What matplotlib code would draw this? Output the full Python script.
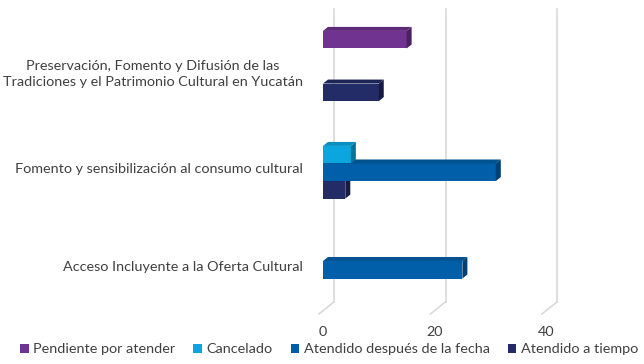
import matplotlib
matplotlib.use("Agg")
import matplotlib.pyplot as plt
from matplotlib.patches import Polygon, Patch
from matplotlib.transforms import ScaledTranslation

categories = [
    "Acceso Incluyente a la Oferta Cultural",
    "Fomento y sensibilización al consumo cultural",
    "Preservación, Fomento y Difusión de las\nTradiciones y el Patrimonio Cultural en Yucatán",
]
series_names = ["Pendiente por atender", "Cancelado", "Atendido después de la fecha", "Atendido a tiempo"]
pendiente = [0, 0, 15]
cancelado = [0, 5, 0]
despues = [25, 31, 0]
a_tiempo = [0, 4, 10]
xticks = [0, 20, 40]

series_values = [pendiente, cancelado, despues, a_tiempo]
front = ["#70338F", "#0BA6DE", "#005FA8", "#242C68"]
top = ["#5E2A7A", "#0A8FC0", "#00518F", "#1D2456"]
side = ["#4B2062", "#08739B", "#004175", "#161B45"]
text_color = "#404040"

plt.rcParams["font.family"] = ["Lato", "DejaVu Sans"]

fig = plt.figure(figsize=(6.44, 3.64), dpi=100)
ax = fig.add_axes([323 / 644, 50 / 364, 321 / 644, 306 / 364])
ax.set_xlim(0, 321 / 5.575)
ax.set_ylim(-0.544, 2.595)

# pixel scale of the axes, used for the fake 3D depth
px_x = 5.575
px_y = 97.5
dx, dy = 5 / px_x, 4 / px_y

slot = 0.18
offsets = [1.5, 0.5, -0.5, -1.5]

# back-wall gridlines and floor ticks
for t in xticks:
    ax.plot([t + 11 / px_x, t + 11 / px_x], [-0.42, 2.585], color="#D9D9D9", lw=1.2, zorder=0, clip_on=False)
    ax.plot([t + 11 / px_x, t - 4 / px_x], [-0.42, -0.42 - 12 / px_y], color="#D9D9D9", lw=1.2, zorder=0,
            clip_on=False)

for i, vals in enumerate(series_values):
    z = 10 - i
    for c, v in enumerate(vals):
        if v == 0:
            continue
        yc = c + offsets[i] * slot
        y0, y1 = yc - slot / 2, yc + slot / 2
        ax.barh(yc, v, height=slot, color=front[i], zorder=z, linewidth=0)
        ax.add_patch(Polygon([(0, y1), (v, y1), (v + dx, y1 + dy), (dx, y1 + dy)],
                             closed=True, facecolor=top[i], lw=0, zorder=z))
        ax.add_patch(Polygon([(v, y0), (v, y1), (v + dx, y1 + dy), (v + dx, y0 + dy)],
                             closed=True, facecolor=side[i], lw=0, zorder=z))

ax.set_xticks(xticks)
ax.set_xticklabels([str(t) for t in xticks], fontsize=10.4, color=text_color)
ax.set_yticks(range(len(categories)))
ax.set_yticklabels(categories, fontsize=10.4, color=text_color, multialignment="center", linespacing=1.35)
ax.tick_params(axis="x", length=0, pad=9)
ax.tick_params(axis="y", length=0, pad=14.4)
for lab in ax.get_yticklabels():
    lab.set_transform(lab.get_transform() + ScaledTranslation(0, -0.05, fig.dpi_scale_trans))
for s in ax.spines.values():
    s.set_visible(False)

handles = [Patch(facecolor=front[i], edgecolor="none") for i in range(4)]
fig.legend(handles, series_names, loc="lower center", bbox_to_anchor=(329 / 644, -0.012), ncol=4,
           frameon=False, fontsize=10.4, handlelength=0.6, handleheight=0.6, handletextpad=0.3,
           columnspacing=1.25, labelcolor=text_color)

fig.savefig("out.png", dpi=100)
